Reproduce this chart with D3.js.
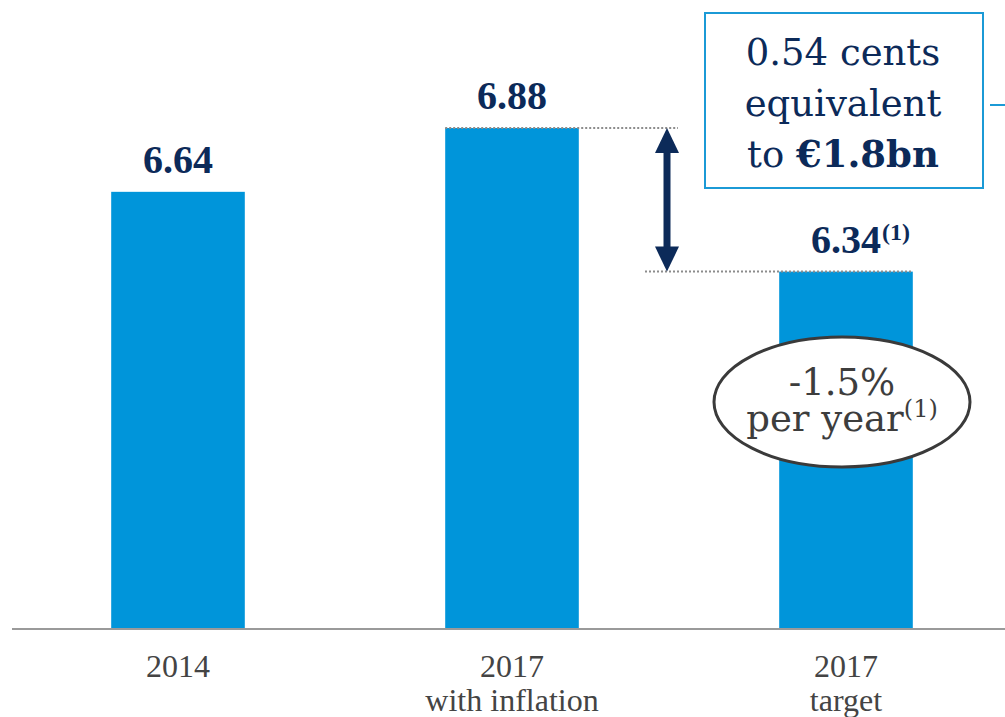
<!DOCTYPE html>
<html>
<head>
<meta charset="utf-8">
<script src="https://cdn.jsdelivr.net/npm/d3@7"></script>
<style>
  body { margin: 0; background: #fff; }
  svg { display: block; }
</style>
</head>
<body>
<div id="chart"></div>
<script>
// chart data
const categories = ['2014', '2017 inflation', '2017 target'];
const values = [6.64, 6.88, 6.34];
const valueLabels = ['6.64', '6.88', '6.34'];
const labelNotes = ['', '', '(1)'];
const tickLines = [['2014'], ['2017', 'with inflation'], ['2017', 'target']];
const boxLines = ['0.54 cents', 'equivalent'];
const boxLast = ['to ', '€1.8bn'];
const ovalLines = ['-1.5%', 'per year'];

const width = 1005, height = 717;
const navy = '#0c2a59';
const blue = '#0095da';

const svg = d3.select('#chart').append('svg')
    .attr('width', width)
    .attr('height', height);

// scales
const x = d3.scaleBand()
    .domain(categories)
    .range([11, 1013])
    .paddingInner(0.6)
    .paddingOuter(0.3);

const y = d3.scaleLinear()
    .domain([5, 6.88])
    .range([628, 128]);

// bars
svg.selectAll('rect.bar')
    .data(values)
    .enter()
    .append('rect')
    .attr('class', 'bar')
    .attr('x', (d, i) => x(categories[i]))
    .attr('y', d => y(d))
    .attr('width', x.bandwidth())
    .attr('height', d => y(5) - y(d))
    .style('fill', blue);

// baseline
svg.append('line')
    .attr('x1', 12).attr('x2', width)
    .attr('y1', y(5) + 1).attr('y2', y(5) + 1)
    .style('stroke', '#9a9a9a')
    .style('stroke-width', 2);

// category labels
tickLines.forEach((lines, i) => {
    const cx = x(categories[i]) + x.bandwidth() / 2;
    const t = svg.append('text')
        .attr('text-anchor', 'middle')
        .style('font-family', '"Liberation Serif", serif')
        .style('font-size', '32px')
        .style('fill', '#444');
    lines.forEach((s, k) => {
        t.append('tspan')
            .attr('x', cx)
            .attr('y', 677 + k * 34)
            .text(s);
    });
});

// dotted guides + arrow between 2017 bars
const xInf = x(categories[1]);
const xTgt = x(categories[2]);
const arrowX = 667;
svg.append('line')
    .attr('x1', xInf).attr('x2', arrowX + 11)
    .attr('y1', y(values[1])).attr('y2', y(values[1]))
    .style('stroke', '#8c8c8c').style('stroke-width', 2)
    .style('stroke-dasharray', '2,2');
svg.append('line')
    .attr('x1', arrowX - 22).attr('x2', xTgt + x.bandwidth())
    .attr('y1', y(values[2])).attr('y2', y(values[2]))
    .style('stroke', '#8c8c8c').style('stroke-width', 2)
    .style('stroke-dasharray', '2,2');

const yTop = y(values[1]), yBot = y(values[2]);
svg.append('line')
    .attr('x1', arrowX).attr('x2', arrowX)
    .attr('y1', yTop + 20).attr('y2', yBot - 20)
    .style('stroke', navy).style('stroke-width', 7);
svg.append('path')
    .attr('d', `M${arrowX},${yTop} L${arrowX - 12},${yTop + 25} L${arrowX + 12},${yTop + 25} Z`)
    .style('fill', navy);
svg.append('path')
    .attr('d', `M${arrowX},${yBot} L${arrowX - 12},${yBot - 25} L${arrowX + 12},${yBot - 25} Z`)
    .style('fill', navy);

// value labels
values.forEach((v, i) => {
    const cx = x(categories[i]) + x.bandwidth() / 2;
    const t = svg.append('text')
        .attr('x', cx)
        .attr('y', y(v) - 19)
        .attr('text-anchor', 'middle')
        .style('font-family', '"Liberation Serif", serif')
        .style('font-weight', 'bold')
        .style('font-size', '40px')
        .style('fill', navy)
        .text(valueLabels[i]);
    if (labelNotes[i]) {
        const w = t.node().getComputedTextLength();
        svg.append('text')
            .attr('x', cx + w / 2 + 1)
            .attr('y', y(v) - 32)
            .style('font-family', '"Liberation Serif", serif')
            .style('font-weight', 'bold')
            .style('font-size', '24px')
            .style('fill', navy)
            .text(labelNotes[i]);
    }
});

// callout box
svg.append('rect')
    .attr('x', 705).attr('y', 13)
    .attr('width', 278).attr('height', 175)
    .style('fill', '#fff')
    .style('stroke', '#1b9ad6')
    .style('stroke-width', 2);
svg.append('line')
    .attr('x1', 990).attr('x2', width)
    .attr('y1', 105).attr('y2', 105)
    .style('stroke', '#1b9ad6').style('stroke-width', 2);

const boxText = svg.append('text')
    .attr('text-anchor', 'middle')
    .style('font-family', '"DejaVu Serif", serif')
    .style('font-size', '37px')
    .style('fill', navy);
boxLines.forEach((s, k) => {
    boxText.append('tspan').attr('x', 843).attr('y', 65 + k * 51).text(s);
});
const last = boxText.append('tspan').attr('x', 843).attr('y', 167);
last.append('tspan').text(boxLast[0]);
last.append('tspan').style('font-weight', 'bold').text(boxLast[1]);

// oval annotation
svg.append('ellipse')
    .attr('cx', 842).attr('cy', 402)
    .attr('rx', 128).attr('ry', 65)
    .style('fill', '#fff')
    .style('stroke', '#3a3a3a')
    .style('stroke-width', 3);
const ovalText = svg.append('text')
    .attr('text-anchor', 'middle')
    .style('font-family', '"DejaVu Serif", serif')
    .style('font-size', '37px')
    .style('fill', '#3d3d3d');
ovalText.append('tspan').attr('x', 842).attr('y', 395).text(ovalLines[0]);
const perYear = ovalText.append('tspan').attr('x', 842).attr('y', 431);
perYear.append('tspan').text(ovalLines[1]);
perYear.append('tspan')
    .attr('dy', -14)
    .style('font-size', '24px')
    .text('(1)');
</script>
</body>
</html>
